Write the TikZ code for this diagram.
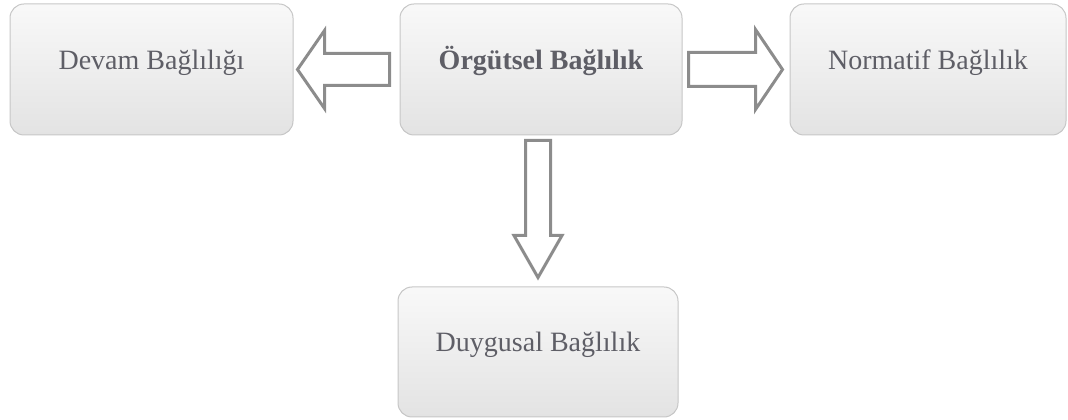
\documentclass[tikz,border=0pt]{standalone}
\usepackage{fontspec}
\setmainfont{Liberation Serif}
\usetikzlibrary{calc}

\definecolor{labelgray}{HTML}{5E5E66}
\definecolor{arrowgray}{HTML}{8C8C8C}

% block arrow from #1 to #2: shaft half width #3, head half width #4, head length #5
\newcommand{\blockarrow}[5]{%
  \draw[arrowline] let \p1=(#1), \p2=(#2),
      \n1={atan2(\y2-\y1,\x2-\x1)}, \n2={veclen(\x2-\x1,\y2-\y1)} in
    [shift={(\p1)}, rotate=\n1]
    (0,-#3) -- (\n2-#5,-#3) -- (\n2-#5,-#4) -- (\n2,0)
    -- (\n2-#5,#4) -- (\n2-#5,#3) -- (0,#3) -- cycle;}

\begin{document}
\begin{tikzpicture}[x=1pt, y=1pt,
    box/.style={draw=gray!45, line width=1pt, rounded corners=14pt,
      top color=gray!5, bottom color=gray!22,
      minimum height=131pt, text height=20pt, text depth=20pt,
      font=\fontsize{28}{32}\selectfont, text=labelgray},
    arrowline/.style={draw=arrowgray, line width=3pt, fill=white, line join=miter}]

    % Fix the canvas to the size of the image
    \useasboundingbox (0,0) rectangle (1068,420);

    % The four boxes
    \node[box, minimum width=282pt] (org) at (541,350.5) {\bfseries Örgütsel Bağlılık};
    \node[box, minimum width=283pt] (devam) at (151.5,350.5) {Devam Bağlılığı};
    \node[box, minimum width=276pt] (norm) at (928,350.5) {Normatif Bağlılık};
    \node[box, minimum width=280pt, minimum height=130pt] (duy) at (538,68) {Duygusal Bağlılık};

    % End points of the arrows
    \coordinate (l1) at ($(org.west)+(-10,0)$);
    \coordinate (l2) at ($(devam.east)+(4,0)$);
    \coordinate (r1) at ($(org.east)+(6,0)$);
    \coordinate (r2) at ($(norm.west)+(-7,0)$);
    \coordinate (d1) at ($(org.south)+(-3,-5)$);
    \coordinate (d2) at ($(duy.north)+(0,9)$);

    % Hollow block arrows
    \blockarrow{l1}{l2}{16}{39}{27}
    \blockarrow{r1}{r2}{17}{40}{27}
    \blockarrow{d1}{d2}{12.5}{24}{42}

\end{tikzpicture}
\end{document}
